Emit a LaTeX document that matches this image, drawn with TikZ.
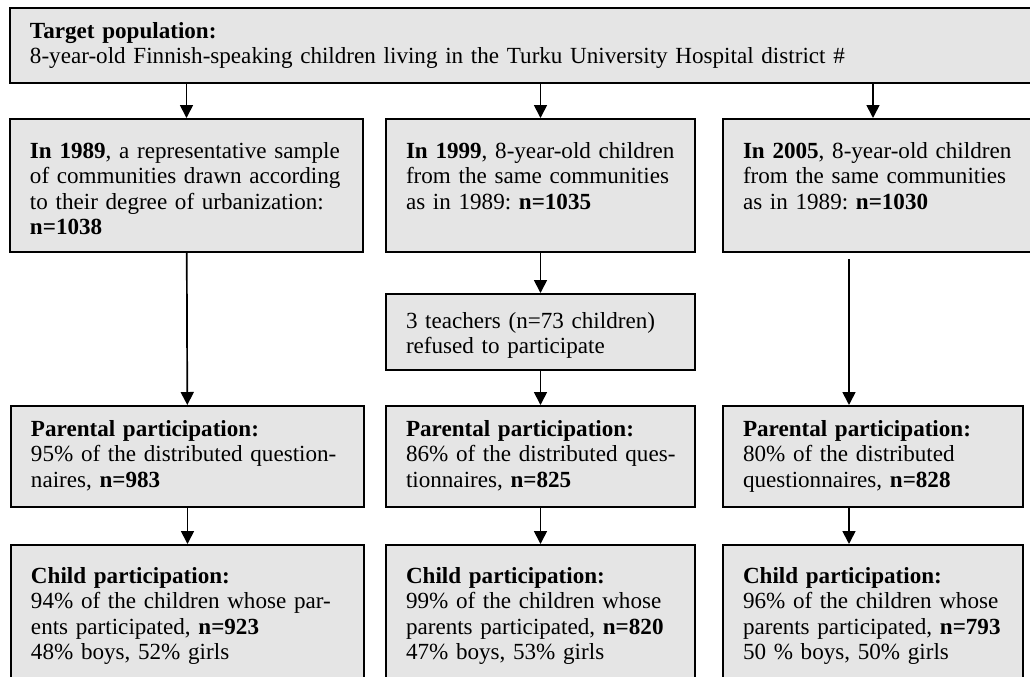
\documentclass[tikz,border=0pt]{standalone}
\usepackage{fontspec}
\setmainfont{Liberation Serif}
\usetikzlibrary{positioning, arrows.meta}
\frenchspacing
\newcommand{\txtline}[1]{\mbox{#1}}

\begin{document}
\begin{tikzpicture}[x=0.5pt, y=-0.5pt,
    box/.style={rectangle, draw, line width=1pt, fill=gray!20, anchor=north west, align=left, inner xsep=10pt, inner ysep=0pt},
    topbox/.style={box, text width=495.5pt, text height=15pt, text depth=22.5pt},
    yearbox/.style={box, text height=19.5pt, text depth=47pt},
    notebox/.style={box, text height=17pt, text depth=21pt},
    parbox/.style={box, text height=15pt, text depth=35.5pt},
    childbox/.style={box, text height=19pt, text depth=56pt},
    arrow/.style={-{Triangle[width=6.5pt, length=6.5pt]}, line width=0.85pt},
    every node/.style={font=\fontsize{11.55}{12.75}\selectfont}
]
\clip (0,0) rectangle (1030,676);

% Target population
\node[topbox] (target) at (9,7) {\txtline{\textbf{Target population:}}\\
\txtline{8-year-old Finnish-speaking children living in the Turku University Hospital district \#}};

% Samples of the three years
\node[yearbox, text width=156.5pt] (s89) at (9,118) {\txtline{\textbf{In 1989}, a representative sample}\\
\txtline{of communities drawn according}\\ \txtline{to their degree of urbanization:}\\ \txtline{\textbf{n=1038}}};
\node[yearbox, text width=134.5pt] (s99) at (385,118) {\txtline{\textbf{In 1999}, 8-year-old children}\\
\txtline{from the same communities}\\ \txtline{as in 1989: \textbf{n=1035}}};
\node[yearbox, text width=145pt] (s05) at (722,118) {\txtline{\textbf{In 2005}, 8-year-old children}\\
\txtline{from the same communities}\\ \txtline{as in 1989: \textbf{n=1030}}};

% Refusal in 1999
\node[notebox, text width=134.5pt] (refused) at (385,293) {\txtline{3 teachers (n=73 children)}\\ \txtline{refused to participate}};

% Parental participation
\node[parbox, text width=156.5pt] (par89) at (10,405) {\txtline{\textbf{Parental participation:}}\\
\txtline{95\% of the distributed question-}\\ \txtline{naires, \textbf{n=983}}};
\node[parbox, text width=134.5pt] (par99) at (385,405) {\txtline{\textbf{Parental participation:}}\\
\txtline{86\% of the distributed ques-}\\ \txtline{tionnaires, \textbf{n=825}}};
\node[parbox, text width=130pt] (par05) at (722,405) {\txtline{\textbf{Parental participation:}}\\
\txtline{80\% of the distributed}\\ \txtline{questionnaires, \textbf{n=828}}};

% Child participation
\node[childbox, text width=156.5pt] (ch89) at (10,544) {\txtline{\textbf{Child participation:}}\\
\txtline{94\% of the children whose par-}\\ \txtline{ents participated, \textbf{n=923}}\\ \txtline{48\% boys, 52\% girls}};
\node[childbox, text width=134.5pt] (ch99) at (385,544) {\txtline{\textbf{Child participation:}}\\
\txtline{99\% of the children whose}\\ \txtline{parents participated, \textbf{n=820}}\\ \txtline{47\% boys, 53\% girls}};
\node[childbox, text width=130pt] (ch05) at (722,544) {\txtline{\textbf{Child participation:}}\\
\txtline{96\% of the children whose}\\ \txtline{parents participated, \textbf{n=793}}\\ \txtline{50 \% boys, 50\% girls}};

% Arrows
\draw[arrow] (target.south -| s89.north) -- (s89.north);
\draw[arrow] (target.south -| s99.north) -- (s99.north);
\draw[arrow] (target.south -| par05.north) -- (s05.north -| par05.north);

\draw[arrow] (s89) -- (par89);
\draw[arrow] (s99) -- (refused);
\draw[arrow] (refused) -- (par99);
\draw[arrow] ([xshift=-12pt, yshift=-3pt]s05.south -| par05.north) -- ([xshift=-12pt]par05.north);

\draw[arrow] (par89) -- (ch89);
\draw[arrow] (par99) -- (ch99);
\draw[arrow] ([xshift=-12pt]par05.south) -- ([xshift=-12pt]ch05.north);

\end{tikzpicture}
\end{document}
